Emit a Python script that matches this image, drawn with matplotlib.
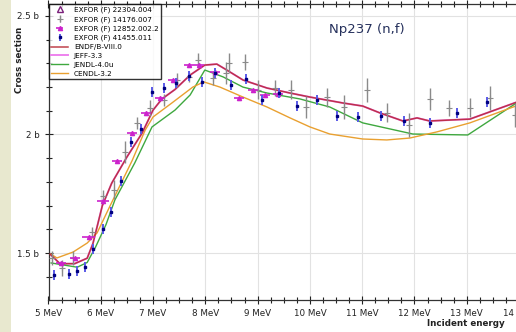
import matplotlib
matplotlib.use('Agg')
import matplotlib.pyplot as plt
from matplotlib.patches import Rectangle
from matplotlib.ticker import MultipleLocator, FuncFormatter

# ----------------------------------------------------------------------------------------
# 标题 / 标签
title = "Np237 (n,f)"
x_label = "Incident energy"
y_label = "Cross section"
save_file_name = "out.png"

# 评价数据 (能量 MeV, 截面 b)
endf_e = [5.03, 5.22, 5.50, 5.74, 5.85, 6.03, 6.21, 6.50, 6.79, 7.00, 7.17, 7.42, 7.71,
          7.99, 8.22, 8.41, 8.72, 9.18, 9.62, 10.00, 10.63, 11.01, 11.34, 11.78, 12.05,
          12.29, 13.06, 14.0]
endf_xs = [1.495, 1.455, 1.455, 1.478, 1.54, 1.70, 1.795, 1.905, 2.006, 2.103, 2.150, 2.190,
           2.251, 2.293, 2.297, 2.272, 2.230, 2.196, 2.175, 2.158, 2.133, 2.120, 2.091,
           2.057, 2.070, 2.057, 2.065, 2.14]
jeff_e = endf_e
jeff_xs = endf_xs
jendl_e = [5.05, 5.55, 5.74, 5.90, 6.10, 6.27, 6.65, 6.98, 7.42, 7.71, 7.99, 8.34, 8.72,
           9.18, 9.81, 10.38, 11.01, 11.97, 13.02, 14.0]
jendl_xs = [1.458, 1.440, 1.46, 1.525, 1.62, 1.724, 1.880, 2.032, 2.103, 2.167, 2.272, 2.243,
            2.200, 2.175, 2.150, 2.116, 2.049, 2.002, 1.998, 2.14]
cendl_e = [5.05, 5.16, 5.47, 5.74, 5.93, 6.18, 6.60, 6.85, 7.00, 7.36, 7.76, 7.97, 8.28,
           8.72, 9.18, 9.62, 10.00, 10.38, 11.01, 11.47, 11.91, 12.43, 13.06, 14.0]
cendl_xs = [1.495, 1.479, 1.504, 1.542, 1.585, 1.70, 1.89, 2.019, 2.074, 2.133, 2.200, 2.222,
            2.200, 2.158, 2.116, 2.070, 2.032, 2.002, 1.981, 1.977, 1.985, 2.011, 2.049, 2.125]

# EXFOR 14176.007 (灰色 +)
grey_e = [5.07, 5.26, 5.47, 5.83, 6.04, 6.25, 6.46, 6.69, 6.94, 7.21, 7.46, 7.69, 7.86,
          8.15, 8.40, 8.45, 8.76, 9.01, 9.33, 9.64, 9.92, 10.33, 10.65, 11.09, 11.47,
          11.89, 12.29, 12.66, 13.06, 13.44, 13.92]
grey_xs = [1.479, 1.437, 1.479, 1.589, 1.741, 1.766, 1.926, 2.049, 2.112, 2.146, 2.230, 2.243,
           2.314, 2.238, 2.259, 2.302, 2.306, 2.188, 2.196, 2.188, 2.116, 2.158, 2.116,
           2.188, 2.091, 2.040, 2.150, 2.112, 2.112, 2.154, 2.082]
grey_err = [0.03, 0.034, 0.03, 0.02, 0.025, 0.04, 0.045, 0.025, 0.035, 0.025, 0.03, 0.02,
            0.03, 0.03, 0.045, 0.04, 0.035, 0.04, 0.035, 0.04, 0.045, 0.04, 0.05, 0.05,
            0.04, 0.05, 0.045, 0.035, 0.04, 0.05, 0.05]

# EXFOR 12852.002.2 (品红三角)
mag_e = [5.24, 5.51, 5.77, 6.04, 6.31, 6.60, 6.86, 7.13, 7.38, 7.69, 7.88, 8.18, 8.64,
         8.91, 9.14, 9.39]
mag_xs = [1.458, 1.479, 1.567, 1.719, 1.888, 2.006, 2.091, 2.154, 2.230, 2.293, 2.293, 2.264,
          2.154, 2.188, 2.167, 2.171]
mag_err = [0.1, 0.1, 0.12, 0.12, 0.1, 0.1, 0.1, 0.1, 0.1, 0.1, 0.1, 0.1, 0.1, 0.1, 0.1, 0.1]

# EXFOR 41455.011 (蓝色方块)
blue_e = [5.11, 5.39, 5.54, 5.70, 5.85, 6.04, 6.20, 6.39, 6.58, 6.77, 6.98, 7.21, 7.44,
          7.69, 7.94, 8.18, 8.49, 8.78, 9.08, 9.41, 9.75, 10.13, 10.52, 10.92, 11.36,
          11.80, 12.29, 12.81, 13.38]
blue_xs = [1.407, 1.411, 1.424, 1.441, 1.517, 1.601, 1.673, 1.804, 1.968, 2.023, 2.179, 2.196,
           2.217, 2.247, 2.222, 2.259, 2.209, 2.234, 2.146, 2.175, 2.120, 2.146, 2.078,
           2.074, 2.078, 2.057, 2.049, 2.091, 2.137]
blue_err = [0.022] * len(blue_e)

labels = ['EXFOR (F) 22304.004', 'EXFOR (F) 14176.007', 'EXFOR (F) 12852.002.2',
          'EXFOR (F) 41455.011', 'ENDF/B-VIII.0', 'JEFF-3.3', 'JENDL-4.0u', 'CENDL-3.2']
# ----------------------------------------------------------------------------------------

plt.rcParams['font.family'] = ['DejaVu Sans']

fig = plt.figure(figsize=(5.16, 3.32), dpi=100)
fig.patch.set_facecolor('white')
# 左侧浅色条
fig.patches.append(Rectangle((0, 0), 11 / 516, 1, transform=fig.transFigure,
                             facecolor='#e8e8cf', edgecolor='none', zorder=0))

ax = fig.add_axes([48.5 / 516, 32 / 332, 470.5 / 516, 296 / 332])
ax.set_xlim(5, 14)
ax.set_ylim(1.3017, 2.5506)

# 网格
ax.grid(True, which='major', color='#e2e2e2', lw=0.8)
ax.set_axisbelow(True)

# 评价曲线
h_jeff, = ax.plot(jeff_e, jeff_xs, color='#ee82ee', lw=1.4, zorder=2)
h_jendl, = ax.plot(jendl_e, jendl_xs, color='#3fa83f', lw=1.0, zorder=3)
h_cendl, = ax.plot(cendl_e, cendl_xs, color='#e9a030', lw=1.0, zorder=3)
h_endf, = ax.plot(endf_e, endf_xs, color='#b5222e', lw=1.1, alpha=0.85, zorder=4)

# 实验数据
h_open, = ax.plot([], [], linestyle='none', marker='^', mfc='white', mec='#7a1f7a',
                  ms=5, mew=1.0)
h_grey = ax.errorbar(grey_e, grey_xs, yerr=grey_err, fmt='+', color='#8a8a8a', ms=4.5,
                     mew=0.8, elinewidth=1.0, capsize=0, zorder=5)
h_mag = ax.errorbar(mag_e, mag_xs, xerr=mag_err, fmt='^', color='#cc22cc', ms=3,
                    elinewidth=1.2, capsize=0, zorder=6)
h_blue = ax.errorbar(blue_e, blue_xs, yerr=blue_err, fmt='s', color='#000080', ms=2,
                     ecolor='#5a5ae8', elinewidth=1.4, capsize=0, zorder=7)

# 刻度
ax.xaxis.set_major_locator(MultipleLocator(1))
ax.xaxis.set_minor_locator(MultipleLocator(0.25))
ax.yaxis.set_major_locator(MultipleLocator(0.5))
ax.yaxis.set_minor_locator(MultipleLocator(0.1))
ax.xaxis.set_major_formatter(FuncFormatter(lambda v, p: '{:g} MeV'.format(v)))
ax.yaxis.set_major_formatter(FuncFormatter(lambda v, p: '{:g} b'.format(v)))
ax.tick_params(which='both', direction='inout', top=True, right=False, labelsize=6.3,
               colors='#222222', width=0.8)
ax.tick_params(which='major', length=6)
ax.tick_params(which='minor', length=4)
for s in ax.spines.values():
    s.set_color('#333333')
    s.set_linewidth(0.9)

# 标题与轴标签
fig.text(367 / 516, 1 - 30 / 332, title, fontsize=9.5, color='#25305c',
         ha='center', va='center')
fig.text(20 / 516, 1 - 60 / 332, y_label, rotation=90, fontsize=6.3, fontweight='bold',
         ha='center', va='center', color='#222222')
fig.text(466 / 516, 1 - 324 / 332, x_label, fontsize=6.3, fontweight='bold',
         ha='center', va='center', color='#222222')

# 图例
handles = [h_open, h_grey, h_mag, h_blue, h_endf, h_jeff, h_jendl, h_cendl]
leg = ax.legend(handles, labels, loc='upper left', borderaxespad=0, fontsize=5.2,
                frameon=True, fancybox=False, edgecolor='black', handlelength=2.3,
                labelspacing=0.38, borderpad=0.4, handletextpad=0.8)
leg.get_frame().set_linewidth(1.0)
leg.set_zorder(10)

fig.savefig(save_file_name, dpi=100)
